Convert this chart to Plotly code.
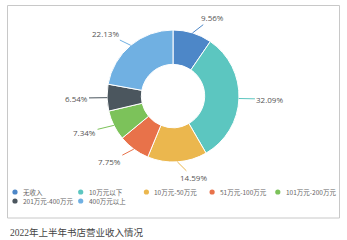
import math
import plotly.graph_objects as go

categories = ["无收入", "10万元以下", "10万元-50万元", "51万元-100万元",
              "101万元-200万元", "201万元-400万元", "400万元以上"]
shares = [9.56, 32.09, 14.59, 7.75, 7.34, 6.54, 22.13]
colors = ["#4d87c8", "#5cc6c0", "#ebb74e", "#e8724a", "#7cc25a", "#4b565e", "#70b0e2"]
title_text = "2022年上半年书店营业收入情况"

W, H = 347, 240
cx, cy, R = 173, 96, 66  # pie centre / radius in pixels

fig = go.Figure()
fig.add_trace(go.Pie(
    labels=categories, values=shares, sort=False, direction="clockwise",
    rotation=0, hole=0.48, textinfo="none", hoverinfo="label+percent",
    marker=dict(colors=colors, line=dict(color="white", width=1)),
    domain=dict(x=[(cx - R) / W, (cx + R) / W], y=[(H - cy - R) / H, (H - cy + R) / H]),
    showlegend=False,
))

annotations = []
total = sum(shares)
cum = 0.0
for v, c in zip(shares, colors):
    mid = (cum + v / 2) / total * 2 * math.pi
    cum += v
    s, co = math.sin(mid), math.cos(mid)
    tipx, tipy = cx + R * s, cy - R * co
    tx = (R + 16) * s + (15 if s >= 0 else -15)
    ty = -(R + 16) * co
    annotations.append(dict(
        x=tipx / W, y=1 - tipy / H, xref="paper", yref="paper",
        ax=tx - R * s, ay=ty + R * co, axref="pixel", ayref="pixel",
        text=f"{v:.2f}%", showarrow=True, arrowhead=0, arrowwidth=1, arrowcolor=c,
        font=dict(size=8, color="#555", family="Open Sans, Noto Sans CJK SC"),
    ))

shapes = [dict(type="rect", xref="paper", yref="paper",
               x0=7.5 / W, x1=339.5 / W, y0=1 - 218 / H, y1=1 - 5.5 / H,
               line=dict(color="#c8c8c8", width=1), fillcolor="rgba(0,0,0,0)", layer="below")]

# manual legend with circle markers
for i, (name, c) in enumerate(zip(categories, colors)):
    row, col = divmod(i, 5)
    mx = 15 + col * 65.7
    my = 192 + row * 9
    shapes.append(dict(type="circle", xref="paper", yref="paper",
                       x0=(mx - 2.6) / W, x1=(mx + 2.6) / W,
                       y0=1 - (my + 2.6) / H, y1=1 - (my - 2.6) / H,
                       fillcolor=c, line=dict(width=0)))
    annotations.append(dict(x=(mx + 6) / W, y=1 - my / H, xref="paper", yref="paper",
                            text=name, showarrow=False, xanchor="left", yanchor="middle",
                            font=dict(size=6.5, color="#666", family="Noto Sans CJK SC")))

annotations.append(dict(x=8 / W, y=1 - 232 / H, xref="paper", yref="paper",
                        text=title_text, showarrow=False, xanchor="left", yanchor="middle",
                        font=dict(size=9.5, color="#444", family="Liberation Serif, Noto Sans CJK SC")))

fig.update_layout(
    width=W, height=H, margin=dict(l=0, r=0, t=0, b=0),
    paper_bgcolor="white", plot_bgcolor="white",
    annotations=annotations, shapes=shapes, showlegend=False,
)
fig.write_html("out.html")
